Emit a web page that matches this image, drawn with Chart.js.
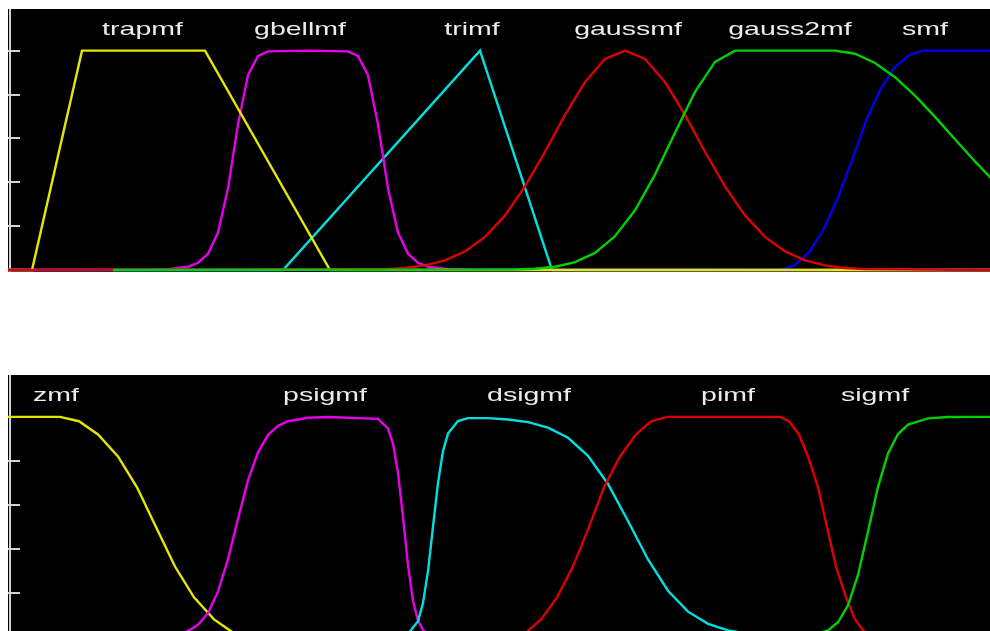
<!DOCTYPE html>
<html>
<head>
<meta charset="utf-8">
<script src="https://cdn.jsdelivr.net/npm/chart.js@4.4.1/dist/chart.umd.min.js"></script>
<style>
  html, body { margin: 0; padding: 0; background: #ffffff; width: 990px; height: 631px; overflow: hidden; }
  #wrap { position: relative; width: 990px; height: 631px; overflow: hidden; }
  #c1 { position: absolute; left: 0; top: 0; }
  #c2 { position: absolute; left: 0; top: 375px; }
</style>
</head>
<body>
<div id="wrap">
  <canvas id="c1" width="990" height="276"></canvas>
  <canvas id="c2" width="990" height="270"></canvas>
</div>
<script>
// ---------- DATA ----------
const yTicks = [0, 0.2, 0.4, 0.6, 0.8, 1.0];

// top panel
const topNames = ['trapmf', 'gbellmf', 'trimf', 'gaussmf', 'gauss2mf', 'smf'];
const topLabelX = [13.45, 29.2, 46.4, 62.0, 78.2, 91.7];

const trapX = [0, 2.4, 7.4, 19.7, 32.2, 98.2];
const trapY = [0, 0, 1, 1, 0, 0];

const gbellX = [0, 14, 16, 18, 19, 20, 21, 22, 23, 24, 25, 26, 30, 34, 35, 36, 37, 38, 39, 40, 41, 42, 44, 46, 98.2];
const gbellY = [0, 0.001, 0.004, 0.015, 0.033, 0.074, 0.171, 0.373, 0.664, 0.888, 0.976, 0.997, 1, 0.997, 0.976, 0.888, 0.664, 0.373, 0.171, 0.074, 0.033, 0.015, 0.004, 0.001, 0];

const trimX = [0, 27.5, 47.2, 54.4, 98.2];
const trimY = [0, 0, 1, 0, 0];

const gaussX = [0, 37.7, 39.7, 41.7, 43.7, 45.7, 47.7, 49.7, 51.7, 53.7, 55.7, 57.7, 59.7, 61.7, 63.7, 65.7, 67.7, 69.7, 71.7, 73.7, 75.7, 77.7, 79.7, 81.7, 83.7, 85.7, 98.2];
const gaussY = [0, 0.004, 0.009, 0.021, 0.044, 0.085, 0.151, 0.249, 0.381, 0.539, 0.707, 0.857, 0.962, 1, 0.962, 0.857, 0.707, 0.539, 0.381, 0.249, 0.151, 0.085, 0.044, 0.021, 0.009, 0.004, 0];

const gauss2X = [10.5, 50.7, 52.7, 54.7, 56.7, 58.7, 60.7, 62.7, 64.7, 66.7, 68.7, 70.7, 72.7, 82.7, 84.7, 86.7, 88.7, 90.7, 92.7, 94.7, 96.7, 98.7, 100.7];
const gauss2Y = [0, 0.002, 0.0055, 0.015, 0.036, 0.078, 0.154, 0.272, 0.435, 0.626, 0.812, 0.949, 1, 1, 0.986, 0.944, 0.879, 0.795, 0.698, 0.596, 0.495, 0.399, 0.312];

const smfX = [0, 77.2, 78.6, 80.1, 81.5, 82.9, 84.4, 85.8, 87.2, 88.6, 90.1, 91.5, 98.2];
const smfY = [0, 0, 0.02, 0.08, 0.18, 0.32, 0.5, 0.68, 0.82, 0.92, 0.98, 1, 1];

// bottom panel
const bottomNames = ['zmf', 'psigmf', 'dsigmf', 'pimf', 'sigmf'];
const bottomLabelX = [4.8, 31.7, 52.1, 72.0, 86.7];

const zmfX = [0, 5.2, 7.1, 9.0, 11.0, 12.9, 14.8, 16.7, 18.6, 20.6, 22.5, 24.4, 98.2];
const zmfY = [1, 1, 0.98, 0.92, 0.82, 0.68, 0.5, 0.32, 0.18, 0.08, 0.02, 0, 0];

const psigX = [0, 16, 18, 19, 20, 21, 22, 23, 24, 25, 26, 27, 28, 30, 32, 37, 38, 38.5, 39, 39.5, 40, 40.5, 41, 41.5, 42, 43, 45, 98.2];
const psigY = [0, 0.006, 0.027, 0.055, 0.109, 0.206, 0.354, 0.537, 0.711, 0.839, 0.917, 0.959, 0.980, 0.996, 0.999, 0.991, 0.947, 0.879, 0.746, 0.545, 0.327, 0.165, 0.075, 0.032, 0.013, 0.002, 0, 0];

const dsigX = [0, 38, 40, 41, 41.5, 42, 42.5, 43, 43.5, 44, 45, 46, 48, 50, 52, 54, 56, 58, 60, 62, 64, 66, 68, 70, 72, 74, 76, 78, 80, 98.2];
const dsigY = [0, 0.001, 0.014, 0.072, 0.154, 0.299, 0.5, 0.70, 0.845, 0.924, 0.981, 0.994, 0.994, 0.988, 0.976, 0.951, 0.905, 0.823, 0.695, 0.527, 0.352, 0.21, 0.115, 0.06, 0.03, 0.015, 0.007, 0.004, 0.002, 0];

const pimfX = [0, 50.2, 51.8, 53.3, 54.9, 56.5, 58.1, 59.6, 61.2, 62.8, 64.3, 65.9, 77.2, 78.1, 79.1, 80.0, 81.0, 81.9, 82.8, 83.8, 84.7, 85.7, 86.6, 98.2];
const pimfY = [0, 0, 0.02, 0.08, 0.18, 0.32, 0.5, 0.68, 0.82, 0.92, 0.98, 1, 1, 0.98, 0.92, 0.82, 0.68, 0.5, 0.32, 0.18, 0.08, 0.02, 0, 0];

const sigX = [0, 78, 80, 82, 83, 84, 85, 86, 87, 88, 89, 90, 92, 94, 98.2];
const sigY = [0, 0.0006, 0.0055, 0.0296, 0.067, 0.144, 0.282, 0.479, 0.682, 0.834, 0.922, 0.965, 0.993, 0.999, 1];

// ---------- STYLE ----------
const C = {
  yellow: '#e6e600', magenta: '#e800e8', cyan: '#00e0e0',
  red: '#dd0000', green: '#00d000', blue: '#0000ee'
};

function pts(xs, ys) { return xs.map((x, i) => ({ x: x, y: ys[i] })); }
function ds(label, xs, ys, color, order) {
  return {
    label: label, data: pts(xs, ys), borderColor: color, backgroundColor: color,
    borderWidth: 2.4, pointRadius: 0, tension: 0, fill: false, clip: 6, order: order
  };
}

const panelPlugin = {
  id: 'panel',
  beforeDraw(chart, args, opts) {
    const ctx = chart.ctx, ca = chart.chartArea, y = chart.scales.y;
    ctx.save();
    ctx.fillStyle = '#000000';
    ctx.fillRect(ca.left - 2, ca.top, chart.width - ca.left + 2, opts.blackBottom - ca.top);
    ctx.strokeStyle = '#d4d4d4';
    ctx.lineWidth = 2;
    ctx.beginPath();
    ctx.moveTo(ca.left, ca.top);
    ctx.lineTo(ca.left, opts.blackBottom);
    ctx.stroke();
    ctx.beginPath();
    yTicks.forEach(v => {
      const py = Math.round(y.getPixelForValue(v));
      ctx.moveTo(ca.left - 2, py);
      ctx.lineTo(ca.left + 10, py);
    });
    ctx.stroke();
    ctx.restore();
  },
  afterDatasetsDraw(chart, args, opts) {
    const ctx = chart.ctx, x = chart.scales.x, y = chart.scales.y;
    ctx.save();
    ctx.fillStyle = '#ececec';
    ctx.font = '19px "Liberation Sans", Arial, sans-serif';
    ctx.textAlign = 'center';
    ctx.textBaseline = 'alphabetic';
    const by = y.getPixelForValue(1.07);
    opts.names.forEach((n, i) => {
      const px = x.getPixelForValue(opts.xs[i]);
      ctx.save();
      ctx.translate(px, by);
      ctx.scale(1.5, 1);
      ctx.fillText(n, 0, 0);
      ctx.restore();
    });
    ctx.restore();
  }
};

function makeChart(id, datasets, pad, blackBottom, names, xs) {
  return new Chart(document.getElementById(id), {
    type: 'line',
    data: { datasets: datasets },
    options: {
      responsive: false, animation: false, devicePixelRatio: 1,
      layout: { padding: pad },
      plugins: { legend: { display: false }, tooltip: { enabled: false },
        panel: { blackBottom: blackBottom, names: names, xs: xs } },
      scales: {
        x: { type: 'linear', min: 0.2, max: 98.2, display: false },
        y: { type: 'linear', min: 0, max: 1.19, display: false }
      }
    },
    plugins: [panelPlugin]
  });
}

makeChart('c1', [
  ds(topNames[0], trapX, trapY, C.yellow, 3),
  ds(topNames[1], gbellX, gbellY, C.magenta, 4),
  ds(topNames[2], trimX, trimY, C.cyan, 5),
  ds(topNames[3], gaussX, gaussY, C.red, 2),
  ds(topNames[4], gauss2X, gauss2Y, C.green, 1),
  ds(topNames[5], smfX, smfY, C.blue, 6)
], { left: 10, right: 0, top: 9, bottom: 6 }, 272, topNames, topLabelX);

makeChart('c2', [
  ds(bottomNames[0], zmfX, zmfY, C.yellow, 5),
  ds(bottomNames[1], psigX, psigY, C.magenta, 4),
  ds(bottomNames[2], dsigX, dsigY, C.cyan, 3),
  ds(bottomNames[3], pimfX, pimfY, C.red, 2),
  ds(bottomNames[4], sigX, sigY, C.green, 1)
], { left: 10, right: 0, top: 0, bottom: 8 }, 270, bottomNames, bottomLabelX);
</script>
</body>
</html>
